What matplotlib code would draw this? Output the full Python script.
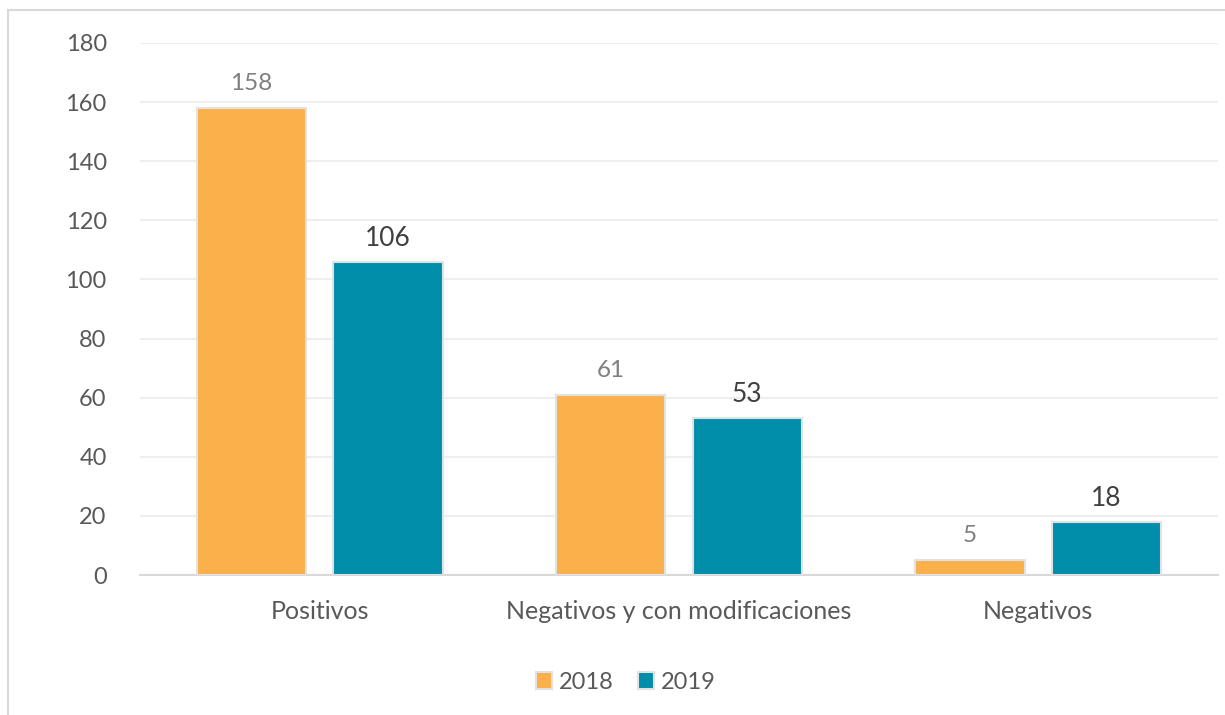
import numpy as np
import matplotlib.pyplot as plt
from matplotlib.patches import Rectangle

categories = ['Positivos', 'Negativos y con modificaciones', 'Negativos']
years = ['2018', '2019']
values_2018 = [158, 61, 5]
values_2019 = [106, 53, 18]
y_ticks = [0, 20, 40, 60, 80, 100, 120, 140, 160, 180]

plt.rcParams['font.family'] = ['Lato', 'DejaVu Sans']

fig = plt.figure(figsize=(12.25, 7.15), dpi=100)
ax = fig.add_axes([0.1143, 0.1958, 0.88, 0.7441])

# outer frame of the chart area
fig.patches.append(Rectangle((8 / 1225, -0.05), 1.1, 1 - 10 / 715 + 0.05,
                             transform=fig.transFigure, fill=False,
                             edgecolor='#d9d9d9', linewidth=1.5))

x = np.arange(len(categories))
offset = 0.19
width = 0.304
b1 = ax.bar(x - offset, values_2018, width, color='#FBB04B',
            edgecolor='#e2e2e2', linewidth=1.5, label=years[0], zorder=3)
b2 = ax.bar(x + offset, values_2019, width, color='#008EAA',
            edgecolor='#e2e2e2', linewidth=1.5, label=years[1], zorder=3)

for rect, v in zip(b1, values_2018):
    ax.annotate(str(v), (rect.get_x() + rect.get_width() / 2, v),
                xytext=(0, 10), textcoords='offset points', ha='center',
                va='bottom', fontsize=17.5, color='#7f7f7f')
for rect, v in zip(b2, values_2019):
    ax.annotate(str(v), (rect.get_x() + rect.get_width() / 2, v),
                xytext=(0, 8), textcoords='offset points', ha='center',
                va='bottom', fontsize=19, color='#404040')

ax.set_xlim(-0.5, 2.5)
ax.set_ylim(0, 180)
ax.set_yticks(y_ticks)
ax.set_xticks(x)
ax.set_xticklabels(categories)
ax.tick_params(axis='y', length=0, labelsize=17, colors='#595959', pad=24)
ax.tick_params(axis='x', length=0, labelsize=18, colors='#595959', pad=18)

ax.yaxis.grid(True, color='#eeeeee', linewidth=1.5, zorder=0)
ax.set_axisbelow(True)
for side in ['top', 'right', 'left']:
    ax.spines[side].set_visible(False)
ax.spines['bottom'].set_color('#d9d9d9')
ax.spines['bottom'].set_linewidth(1.5)

leg = fig.legend(handles=[b1, b2], labels=years, loc='center',
                 bbox_to_anchor=(0.511, 0.046), ncol=2, frameon=False,
                 fontsize=17, handlelength=0.7, handleheight=0.7,
                 handletextpad=0.3, columnspacing=1.0)
for t in leg.get_texts():
    t.set_color('#595959')

fig.savefig('out.png', dpi=100, facecolor='white')
